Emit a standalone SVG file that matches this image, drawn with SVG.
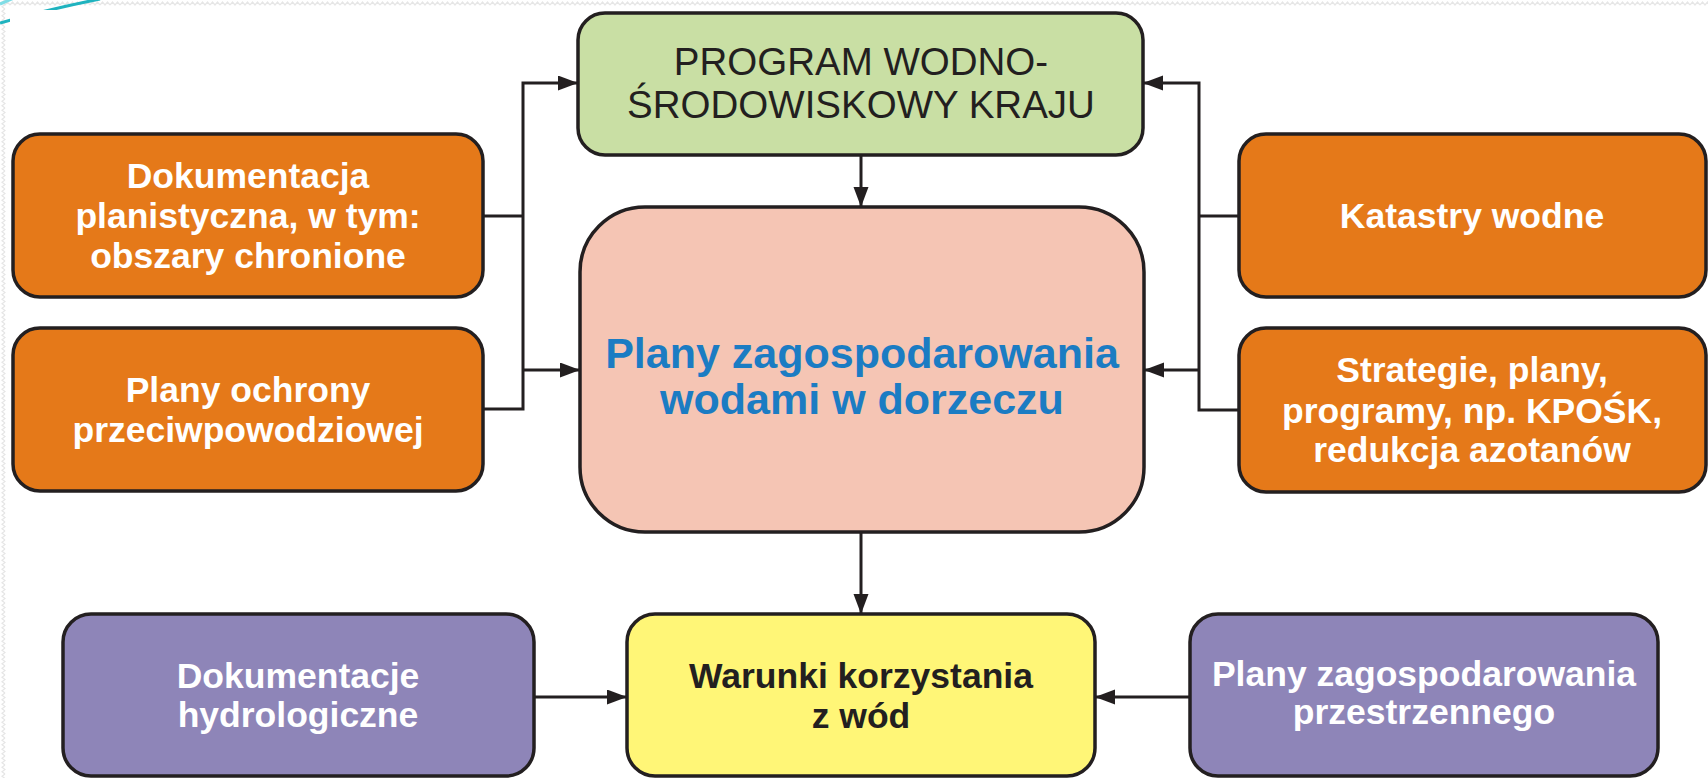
<svg xmlns="http://www.w3.org/2000/svg" width="1708" height="778" viewBox="0 0 1708 778">
<style>
.box{stroke:#231f20;stroke-width:3.5}
.or{fill:#e57919}
.gr{fill:#c9dfa4}
.pk{fill:#f5c5b4}
.ye{fill:#fff677}
.pu{fill:#8e85b8}
.t{font-family:"Liberation Sans",Arial,sans-serif;text-anchor:middle}
.wb{fill:#ffffff;font-weight:bold;font-size:35.5px}
.kb{fill:#231f20;font-weight:bold;font-size:35.5px}
.kr{fill:#231f20;font-size:38.5px}
.bl{fill:#1b7cc3;font-weight:bold;font-size:43px}
.cn{fill:none;stroke:#231f20;stroke-width:3}
</style>
<defs>
<marker id="ah" markerUnits="userSpaceOnUse" markerWidth="22" markerHeight="16" refX="20" refY="7.5" orient="auto">
<path d="M0,0 L20,7.5 L0,15 z" fill="#231f20"/>
</marker>
<pattern id="wavH" x="0" y="0" width="10" height="10" patternUnits="userSpaceOnUse">
<path d="M0,5 L2.5,2 L5,5 L7.5,2 L10,5" fill="none" stroke="#e6e6e6" stroke-width="1.2"/>
</pattern>
<pattern id="wavV" x="0" y="0" width="10" height="9" patternUnits="userSpaceOnUse">
<path d="M5,0 L2,2.25 L5,4.5 L2,6.75 L5,9" fill="none" stroke="#e6e6e6" stroke-width="1.2"/>
</pattern>
</defs>
<rect x="0" y="0" width="1708" height="778" fill="#ffffff"/>
<rect x="0" y="0" width="1708" height="10" fill="url(#wavH)"/>
<rect x="0" y="0" width="10" height="778" fill="url(#wavV)"/>
<path d="M0,23 Q45,10 100,-1" fill="none" stroke="#1fb3bf" stroke-width="3"/>
<path d="M0,4 L14,-2" fill="none" stroke="#7fdde6" stroke-width="3"/>
<rect x="10" y="10" width="1698" height="768" fill="#ffffff"/>

<g id="program">
<rect class="box gr" x="578" y="13" width="565" height="142" rx="27"/>
<text class="t kr" x="861" y="75">PROGRAM WODNO-</text>
<text class="t kr" x="861" y="118">ŚRODOWISKOWY KRAJU</text>
</g>
<g id="dokumentacja">
<rect class="box or" x="13" y="134" width="470" height="163" rx="27"/>
<text class="t wb" x="248" y="188">Dokumentacja</text>
<text class="t wb" x="248" y="228">planistyczna, w tym:</text>
<text class="t wb" x="248" y="268">obszary chronione</text>
</g>
<g id="ochrona">
<rect class="box or" x="13" y="328" width="470" height="163" rx="27"/>
<text class="t wb" x="248" y="402">Plany ochrony</text>
<text class="t wb" x="248" y="442">przeciwpowodziowej</text>
</g>
<g id="plany">
<rect class="box pk" x="580" y="207" width="564" height="325" rx="65"/>
<text class="t bl" x="862" y="368">Plany zagospodarowania</text>
<text class="t bl" x="862" y="414">wodami w dorzeczu</text>
</g>
<g id="katastry">
<rect class="box or" x="1239" y="134" width="467" height="163" rx="27"/>
<text class="t wb" x="1472" y="228">Katastry wodne</text>
</g>
<g id="strategie">
<rect class="box or" x="1239" y="328" width="467" height="164" rx="27"/>
<text class="t wb" x="1472" y="382">Strategie, plany,</text>
<text class="t wb" x="1472" y="423">programy, np. KPOŚK,</text>
<text class="t wb" x="1472" y="462">redukcja azotanów</text>
</g>
<g id="hydro">
<rect class="box pu" x="63" y="614" width="471" height="162" rx="28"/>
<text class="t wb" x="298" y="688">Dokumentacje</text>
<text class="t wb" x="298" y="727">hydrologiczne</text>
</g>
<g id="warunki">
<rect class="box ye" x="627" y="614" width="468" height="162" rx="28"/>
<text class="t kb" x="861" y="688">Warunki korzystania</text>
<text class="t kb" x="861" y="728">z wód</text>
</g>
<g id="przestrzenne">
<rect class="box pu" x="1190" y="614" width="468" height="162" rx="28"/>
<text class="t wb" x="1424" y="686">Plany zagospodarowania</text>
<text class="t wb" x="1424" y="724">przestrzennego</text>
</g>

<g id="connectors">
<path class="cn" d="M483,216 H523"/>
<path class="cn" d="M483,409 H523 V83 H578" marker-end="url(#ah)"/>
<path class="cn" d="M523,370 H580" marker-end="url(#ah)"/>
<path class="cn" d="M1239,216 H1199"/>
<path class="cn" d="M1239,410 H1199 V83 H1143" marker-end="url(#ah)"/>
<path class="cn" d="M1199,370 H1144" marker-end="url(#ah)"/>
<path class="cn" d="M861,155 V207" marker-end="url(#ah)"/>
<path class="cn" d="M861,532 V614" marker-end="url(#ah)"/>
<path class="cn" d="M534,697 H627" marker-end="url(#ah)"/>
<path class="cn" d="M1190,697 H1095" marker-end="url(#ah)"/>
</g>
</svg>
